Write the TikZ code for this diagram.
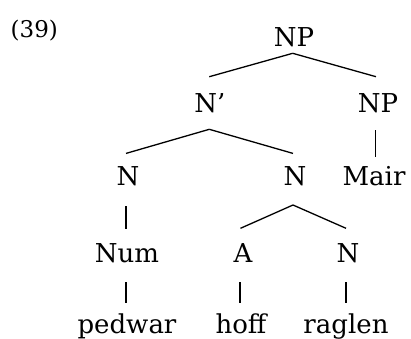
\documentclass[tikz,border=0pt]{standalone}
\usepackage{fontspec}
\setmainfont{DejaVu Serif}
\begin{document}
\begin{tikzpicture}[x=1pt,y=-1pt,
  lbl/.style={anchor=base,inner sep=0pt,font=\fontsize{26}{30}\selectfont},
  exno/.style={anchor=base west,inner sep=0pt,font=\fontsize{23}{26}\selectfont},
  edge/.style={line width=1.3pt,black}]
\useasboundingbox (0,0) rectangle (411,338);
\node[exno] (ex) at (10.5,37.3) {(39)};
% nodes (x = centre, y = baseline)
\node[lbl] (np)   at (294,46.7)  {NP};
\node[lbl] (nbar) at (210,112.3) {N’};
\node[lbl] (npr)  at (378,112.3) {NP};
\node[lbl] (nl)   at (128,185.7) {N};
\node[lbl] (nr)   at (295,185.7) {N};
\node[lbl] (mair) at (374,185.7) {Mair};
\node[lbl] (num)  at (127,262)   {Num};
\node[lbl] (a)    at (243,262)   {A};
\node[lbl] (n3)   at (348,262)   {N};
\node[lbl] (ped)  at (127,333)   {pedwar};
\node[lbl] (hoff) at (241,333)   {hoff};
\node[lbl] (rag)  at (346,333)   {raglen};
% connectors
\draw[edge] ([xshift=-1.3pt,yshift=-6.6pt]np.base) -- ([xshift=-0.7pt,yshift=35.6pt]nbar.base);
\draw[edge] ([xshift=-1.3pt,yshift=-6.6pt]np.base) -- ([xshift=-2pt,yshift=35.6pt]npr.base);
\draw[edge] ([xshift=-0.7pt,yshift=-17pt]nbar.base) -- ([xshift=-2pt,yshift=32.3pt]nl.base);
\draw[edge] ([xshift=-0.7pt,yshift=-17pt]nbar.base) -- ([xshift=-2pt,yshift=32.3pt]nr.base);
\draw[edge] ([xshift=-2.7pt,yshift=-18pt]npr.base) -- ([xshift=1.3pt,yshift=29pt]mair.base);
\draw[edge] ([xshift=-2pt,yshift=-20.5pt]nl.base) -- ([xshift=-1pt,yshift=33.5pt]num.base);
\draw[edge] ([xshift=-2pt,yshift=-19.3pt]nr.base) -- ([xshift=-2.5pt,yshift=33.7pt]a.base);
\draw[edge] ([xshift=-2pt,yshift=-19.3pt]nr.base) -- ([xshift=-2pt,yshift=33.7pt]n3.base);
\draw[edge] ([xshift=-1pt,yshift=-20pt]num.base) -- ([xshift=-1pt,yshift=30pt]ped.base);
\draw[edge] ([xshift=-3pt,yshift=-20pt]a.base) -- ([xshift=-1pt,yshift=30pt]hoff.base);
\draw[edge] ([xshift=-2pt,yshift=-20pt]n3.base) -- ([xshift=0pt,yshift=30pt]rag.base);
\end{tikzpicture}
\end{document}
